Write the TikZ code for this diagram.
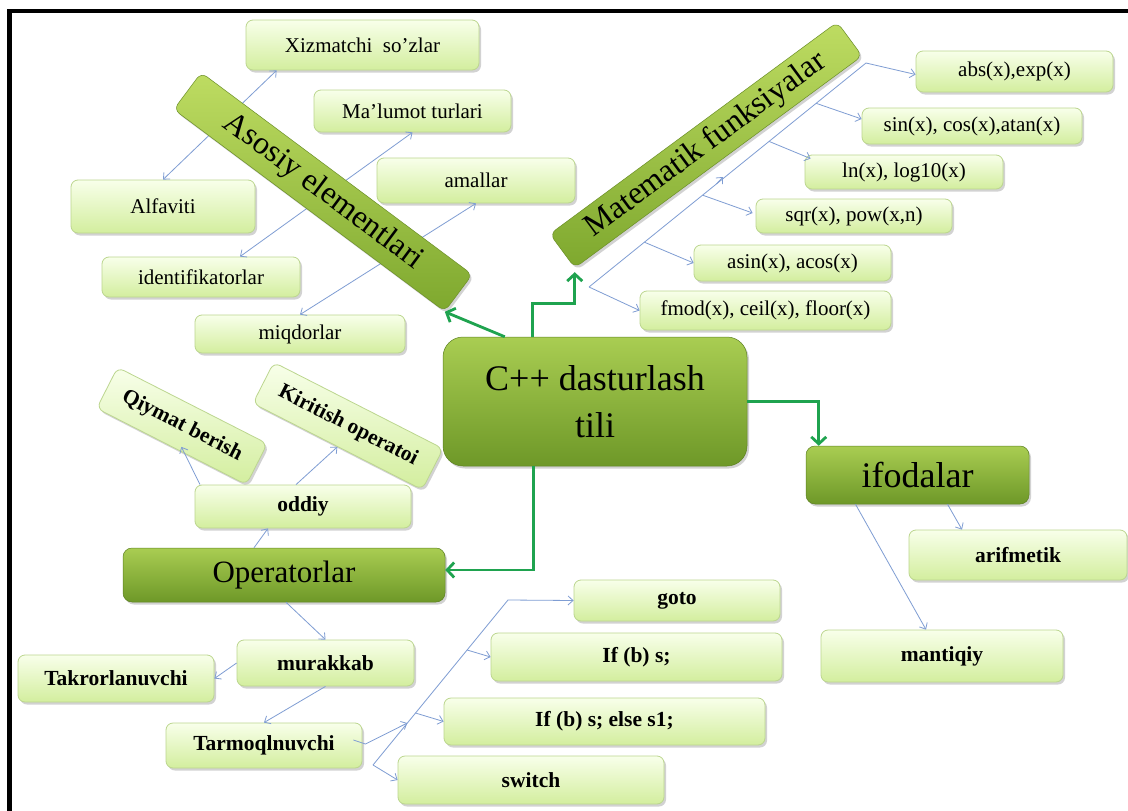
\documentclass[tikz,border=0pt]{standalone}
\usepackage{fontspec}
\setmainfont{Liberation Serif}
\usetikzlibrary{arrows.meta,shadows,calc}
\definecolor{lineblue}{HTML}{7F9DD3}
\definecolor{cgreen}{HTML}{1FA34F}
\definecolor{lbtop}{HTML}{F8FFEA}
\definecolor{lbbot}{HTML}{D3EE9E}
\definecolor{lbborder}{HTML}{BCD68F}
\definecolor{dktop}{HTML}{A9CD52}
\definecolor{dkbot}{HTML}{6E9828}
\definecolor{brtop}{HTML}{BEDC62}
\definecolor{brbot}{HTML}{7EA82E}
\newcommand{\myfs}[1]{\fontsize{#1}{#1}\selectfont}
\begin{document}
\begin{tikzpicture}[x=1pt,y=-1pt,
  shad/.style={drop shadow={shadow xshift=2pt,shadow yshift=-2.5pt,opacity=0.35}},
  lbox/.style={shad,rounded corners=7pt,draw=lbborder,line width=0.8pt,
    top color=lbtop,bottom color=lbbot,inner sep=2pt,font=\myfs{21}},
  bbox/.style={lbox,font=\bfseries\myfs{21.5}},
  dbox/.style={shad,rounded corners=9pt,draw=dkbot!85!black,line width=0.5pt,
    top color=dktop,bottom color=dkbot,inner sep=2pt},
  barbox/.style={shad,rounded corners=7pt,draw=brbot!85!black,line width=0.5pt,
    top color=brtop,bottom color=brbot,inner sep=2pt,font=\myfs{32}},
  bline/.style={draw=lineblue,line width=0.8pt},
  barrow/.style={bline,-{Straight Barb[length=5pt,width=9pt]}},
  bboth/.style={bline,{Straight Barb[length=5pt,width=9pt]}-{Straight Barb[length=5pt,width=9pt]}},
  garrow/.style={draw=cgreen,line width=2.8pt,-{Straight Barb[length=7pt,width=15pt]}}
]
\useasboundingbox (0,0) rectangle (1128,811);
\fill[white] (0,0) rectangle (1128,811);
\draw[line width=4.3pt,line join=miter] (9.5,811) -- (9.5,11.3) -- (1128,11.3);

% light boxes, top left
\node[lbox,minimum width=233pt,minimum height=50pt] (xiz) at (362.5,45) {Xizmatchi~ so’zlar};
\node[lbox,minimum width=197pt,minimum height=42pt] (mal) at (412.5,111) {Ma’lumot turlari};
\node[lbox,minimum width=198pt,minimum height=45pt] (ama) at (476,180.5) {amallar};
\node[lbox,minimum width=184pt,minimum height=53pt] (alf) at (163,206.5) {Alfaviti};
\node[lbox,minimum width=198pt,minimum height=40pt] (ide) at (201,277) {identifikatorlar};
\node[lbox,minimum width=210pt,minimum height=38pt] (miq) at (300,334) {miqdorlar};

% light boxes, top right
\node[lbox,minimum width=197pt,minimum height=41pt] (abs) at (1014.5,71.5) {abs(x),exp(x)};
\node[lbox,minimum width=220pt,minimum height=36pt] (sin) at (972,126) {sin(x), cos(x),atan(x)};
\node[lbox,minimum width=198pt,minimum height=34pt] (ln) at (904,172) {ln(x), log10(x)};
\node[lbox,minimum width=196pt,minimum height=34pt] (sqr) at (854,216) {sqr(x), pow(x,n)};
\node[lbox,minimum width=197pt,minimum height=36pt] (asin) at (792.5,263) {asin(x), acos(x)};
\node[lbox,minimum width=251pt,minimum height=39pt] (fmod) at (765.5,310.5) {fmod(x), ceil(x), floor(x)};

% dark nodes
\node[dbox,rounded corners=20pt,minimum width=304pt,minimum height=129pt,align=center,
  font=\myfs{36}] (cen) at (595,401.5) {C++ dasturlash\\[11pt]tili};
\node[dbox,minimum width=223pt,minimum height=58pt,font=\myfs{36}] (ifo) at (917.5,475) {ifodalar};
\node[dbox,minimum width=322pt,minimum height=54pt,font=\myfs{31}] (ope) at (284,575) {Operatorlar};

% bold boxes
\node[bbox,minimum width=218pt,minimum height=50pt] (ari) at (1018,555) {arifmetik};
\node[bbox,minimum width=242pt,minimum height=52pt] (man) at (942,656) {mantiqiy};
\node[bbox,minimum width=206pt,minimum height=41pt] (goto) at (677,600.5) {goto};
\node[bbox,minimum width=291pt,minimum height=48pt] (ifb) at (636.5,657) {If (b) s;};
\node[bbox,minimum width=321pt,minimum height=47pt] (els) at (604.5,721.5) {If (b) s; else s1;};
\node[bbox,minimum width=266pt,minimum height=48pt] (swi) at (531,780) {switch};
\node[bbox,minimum width=216pt,minimum height=43pt] (odd) at (303,506.5) {oddiy};
\node[bbox,minimum width=177pt,minimum height=46pt] (mur) at (325.5,663) {murakkab};
\node[bbox,minimum width=196pt,minimum height=47pt] (tak) at (116,678.5) {Takrorlanuvchi};
\node[bbox,minimum width=196pt,minimum height=45pt] (tar) at (264,745.5) {Tarmoqlnuvchi};
\node[bbox,rotate=-27,minimum width=168pt,minimum height=46pt] (qiy) at (182,426) {Qiymat berish};
\node[bbox,rotate=-27,minimum width=190pt,minimum height=46pt] (kir) at (348,426) {Kiritish operatoi};

% blue connectors: Asosiy elementlari
\draw[bboth] (alf.north) -- ($(xiz.south west)+(31,0)$);
\draw[bboth] ($(ide.north)+(39,0)$) -- (mal.south);
\draw[bboth] (miq.north) -- (ama.south);

% blue connectors: Matematik funksiyalar
\coordinate (m0) at (589,287);
\coordinate (mt) at (866,63);
\coordinate (mstray) at (723,177);
\draw[barrow] (m0) -- (mt) -- ($(abs.west)+(0,3)$);
\draw[barrow] (m0) -- (fmod.west);
\draw[barrow] ($(m0)!0.2!(mt)$) -- (asin.west);
\draw[barrow] ($(m0)!0.41!(mt)$) -- ($(sqr.west)+(-3,-3)$);
\draw[barrow] ($(m0)!0.46!(mt)$) -- (mstray);
\draw[barrow] ($(m0)!0.65!(mt)$) -- ($(ln.north west)+(6,4)$);
\draw[barrow] ($(m0)!0.82!(mt)$) -- ($(sin.west)+(0,-7)$);

% blue connectors: ifodalar
\draw[barrow] ($(ifo.south)+(30,0)$) -- ($(ari.north)+(-56,0)$);
\draw[barrow] ($(ifo.south)+(-62,0)$) -- ($(man.north)+(-16,0)$);

% blue connectors: Operatorlar
\draw[barrow] ($(ope.north)+(-30,0)$) -- ($(odd.south)+(-35,0)$);
\draw[barrow] ($(odd.north)+(-103,0)$) -- ($(qiy.south)+(10,0)$);
\draw[barrow] ($(odd.north)+(-7,0)$) -- (kir.south);
\draw[barrow] ($(ope.south)+(2,0)$) -- (mur.north);
\draw[barrow] (mur.west) -- (tak.east);
\draw[barrow] (mur.south) -- (tar.north);

% blue connectors: Tarmoqlnuvchi
\coordinate (t0) at (373,765);
\coordinate (tt) at (508,600);
\draw[barrow] ($(tar.east)+(-9,-5.5)$) -- ($(tar.east)+(3,-1.5)$) -- ($(t0)!0.2545!(tt)$);
\draw[barrow] (t0) -- (tt) -- (goto.west);
\draw[barrow] ($(t0)!0.697!(tt)$) -- (ifb.west);
\draw[barrow] ($(t0)!0.315!(tt)$) -- (els.west);
\draw[barrow] (t0) -- (swi.west);

% bars
\node[barbox,rotate=-36.7,minimum width=338pt,minimum height=46pt] (aso) at (323,192) {Asosiy elementlari};
\node[barbox,rotate=36.4,minimum width=357pt,minimum height=42pt] (mat) at (706,145) {Matematik funksiyalar};

% green connectors
\draw[garrow] ($(cen.north west)+(62,0)$) -- (aso.south east);
\draw[garrow,shorten >=4pt] ($(cen.north west)+(90,0)$) |- ($(mat.south west)+(0,35)$) -- (mat.south west);
\draw[garrow] (cen.east) -| ($(ifo.north west)+(13,0)$);
\draw[garrow] ($(cen.south west)+(91,0)$) |- ($(ope.east)+(0,-5)$);
\end{tikzpicture}
\end{document}
